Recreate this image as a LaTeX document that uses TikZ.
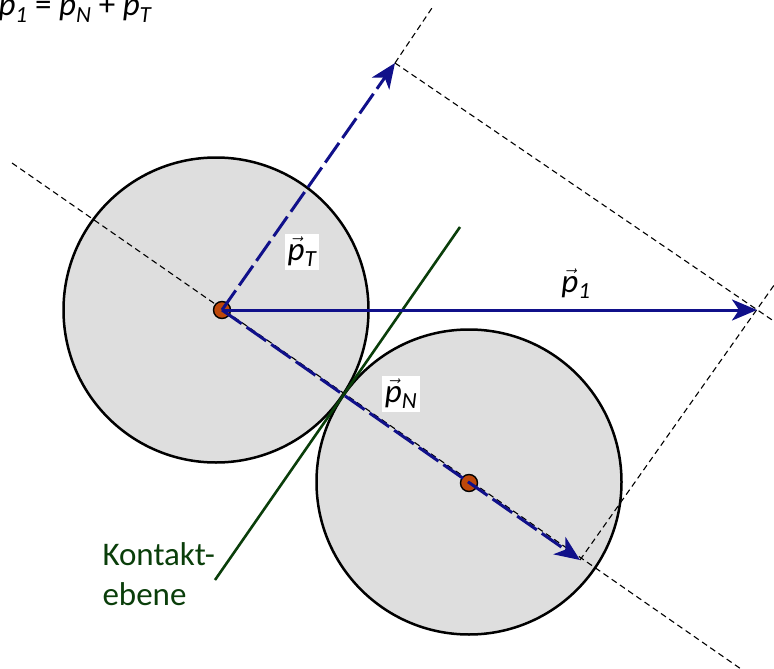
\documentclass[tikz,border=0pt]{standalone}
\usepackage{amsmath}
\usepackage{fontspec}
\setmainfont{Carlito}
\usepackage{xcolor}
\usetikzlibrary{
    arrows.meta
}

\definecolor{pblue}{RGB}{16,16,138}
\definecolor{pgreen}{RGB}{10,62,10}
\definecolor{pfill}{RGB}{222,222,222}
\definecolor{pdot}{RGB}{190,72,10}

\newcommand{\pvec}[1]{$\vec{\textit{p}}_{\textit{#1}}$}

\begin{document}
\begin{tikzpicture}[
    x=1pt,
    y=-1pt,
    font=\fontsize{33}{40}\selectfont,
    ball/.style={
        circle,
        draw=black,
        line width=2.5pt,
        fill=pfill,
        minimum size=305pt,
        inner sep=0pt
    },
    dot/.style={
        circle,
        draw=black,
        line width=1.4pt,
        fill=pdot,
        minimum size=17pt,
        inner sep=0pt
    },
    guide/.style={
        draw=black,
        line width=1.1pt,
        dash pattern=on 6pt off 4pt
    },
    force/.style={
        -{Stealth[length=25pt,width=21pt,inset=7pt]},
        line width=3pt,
        draw=pblue
    },
    part/.style={
        force,
        dash pattern=on 24pt off 6pt
    },
    plane/.style={
        draw=pgreen,
        line width=2.6pt
    },
    tag/.style={
        fill=white,
        inner sep=3pt
    }
]

\useasboundingbox (0,0) rectangle (774,669);

% =========================================================
% Balls
% =========================================================
\node[ball] (ball1) at (216,310) {};
\node[ball] (ball2) at (469,482) {};

% =========================================================
% Points
% =========================================================
\coordinate (tipT) at (395,63);
\coordinate (tipN) at (580,560);
\coordinate (tip1) at (757,310);

\coordinate (nstart) at (12,163);
\coordinate (nend) at (741,669);
\coordinate (tend) at (434,5);
\coordinate (aend) at (778,324);
\coordinate (bend) at (777,281);

% =========================================================
% Guide lines
% =========================================================
\draw[guide] (nstart) -- (nend);
\draw[guide] (tipT) -- (tend);
\draw[guide] (tipT) -- (aend);
\draw[guide] (tipN) -- (bend);

% =========================================================
% Contact plane
% =========================================================
\coordinate (gtop) at (460,227);
\coordinate (gbot) at (215,580);
\draw[plane] (gtop) -- (gbot);

\node[text=pgreen, anchor=base west, align=left] (kontakt) at (99,605)
{Kontakt-\\ebene};

% =========================================================
% Centres
% =========================================================
\node[dot] (m1) at (222,310) {};
\node[dot] (m2) at (469,483) {};

% =========================================================
% Momentum vectors
% =========================================================
\draw[part] (m1.center) -- (tipT);
\draw[part] (m1.center) -- (tipN);
\draw[force] (m1.center) -- (tip1);

\node[tag] (labT) at (302,252) {\pvec{T}};
\node[tag] (labN) at (401,394) {\pvec{N}};
\node (lab1) at (576,284) {\pvec{1}};

\node[anchor=base west] (sum) at (-5,16)
{\pvec{1} = \pvec{N} + \pvec{T}};

\end{tikzpicture}
\end{document}
